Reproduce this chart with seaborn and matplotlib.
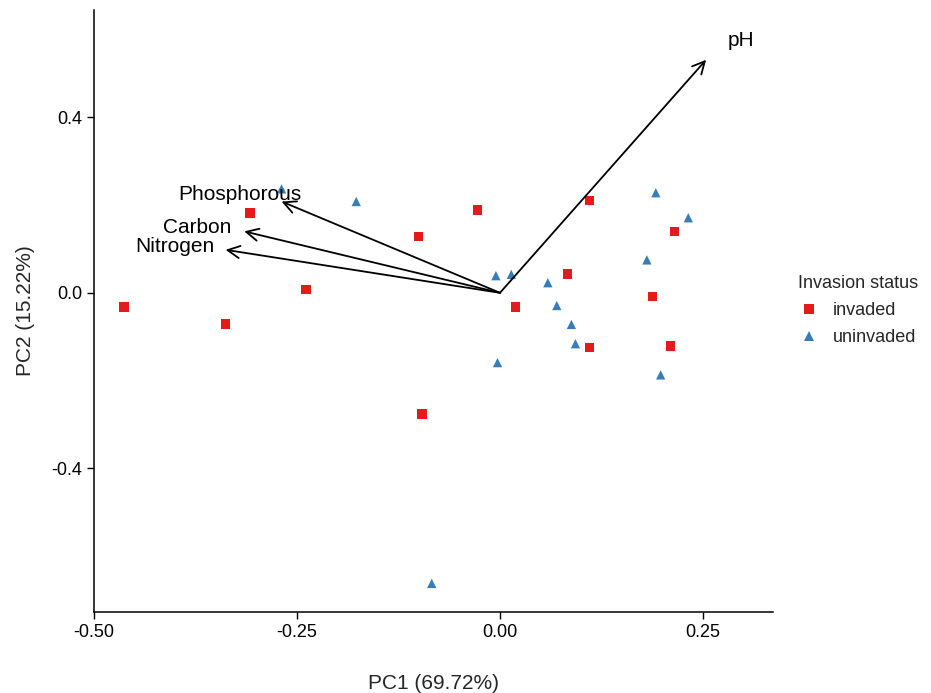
import pandas as pd
import matplotlib
matplotlib.use('Agg')
import matplotlib.pyplot as plt
import seaborn as sns

# sample scores
inv_pc1 = [-0.463, -0.338, -0.308, -0.239, -0.100, -0.028, -0.096, 0.019,
           0.083, 0.110, 0.110, 0.188, 0.215, 0.210]
inv_pc2 = [-0.032, -0.071, 0.182, 0.008, 0.129, 0.189, -0.276, -0.032,
           0.043, 0.210, -0.125, -0.009, 0.139, -0.121]
uninv_pc1 = [-0.269, -0.177, -0.005, 0.014, 0.059, 0.070, 0.088, 0.093,
             -0.003, -0.084, 0.192, 0.232, 0.181, 0.198]
uninv_pc2 = [0.237, 0.208, 0.039, 0.042, 0.023, -0.029, -0.072, -0.116,
             -0.159, -0.662, 0.228, 0.171, 0.075, -0.187]

# loading vectors
var_names = ['Phosphorous', 'Carbon', 'Nitrogen', 'pH']
load_pc1 = [-0.269, -0.315, -0.338, 0.254]
load_pc2 = [0.208, 0.140, 0.098, 0.531]
label_pc1 = [-0.320, -0.373, -0.400, 0.297]
label_pc2 = [0.223, 0.148, 0.105, 0.574]

df = pd.DataFrame({
    'PC1': inv_pc1 + uninv_pc1,
    'PC2': inv_pc2 + uninv_pc2,
    'status': ['invaded'] * len(inv_pc1) + ['uninvaded'] * len(uninv_pc1),
})

sns.set_style('ticks')
plt.rcParams['font.family'] = ['Liberation Sans', 'DejaVu Sans']
plt.rcParams['axes.unicode_minus'] = False

fig = plt.figure(figsize=(9.31, 6.93), dpi=100)
ax = fig.add_axes([0.101, 0.117, 0.729, 0.869])

sns.scatterplot(data=df, x='PC1', y='PC2', hue='status', style='status',
                palette={'invaded': '#E41A1C', 'uninvaded': '#377EB8'},
                markers={'invaded': 's', 'uninvaded': '^'},
                s=45, linewidth=0, ax=ax)

for name, x, y, lx, ly in zip(var_names, load_pc1, load_pc2, label_pc1, label_pc2):
    ax.annotate('', xy=(x, y), xytext=(0, 0),
                arrowprops=dict(arrowstyle='->', color='black', lw=1.3,
                                mutation_scale=22, shrinkA=0, shrinkB=0))
    ax.text(lx, ly, name, ha='center', va='center', fontsize=15, color='black')

ax.set_xlim(-0.5, 0.336)
ax.set_ylim(-0.727, 0.645)
ax.set_xticks([-0.5, -0.25, 0.0, 0.25])
ax.set_xticklabels(['-0.50', '-0.25', '0.00', '0.25'])
ax.set_yticks([-0.4, 0.0, 0.4])
ax.set_yticklabels(['-0.4', '0.0', '0.4'])
ax.tick_params(labelsize=13, colors='black', length=5, width=1)
for sp in ['left', 'bottom']:
    ax.spines[sp].set_linewidth(1.1)
    ax.spines[sp].set_color('black')
sns.despine(ax=ax)

ax.set_xlabel('PC1 (69.72%)', fontsize=15, labelpad=24)
ax.set_ylabel('PC2 (15.22%)', fontsize=15, labelpad=12)

handles, labels = ax.get_legend_handles_labels()
ax.legend(handles, labels, title='Invasion status', loc='center left',
          bbox_to_anchor=(1.014, 0.5), frameon=False, fontsize=13,
          title_fontsize=13, alignment='left', handlelength=1.2,
          handletextpad=0.7, labelspacing=0.55, markerscale=1.1)

fig.savefig('out.png', dpi=100)
